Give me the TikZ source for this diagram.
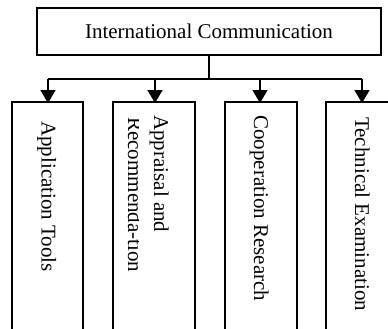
\documentclass[tikz,border=0pt]{standalone}
\usepackage{fontspec}
\setmainfont{Liberation Serif}
\usetikzlibrary{arrows.meta}
\begin{document}
\begin{tikzpicture}[x=1pt,y=-1pt,
  boxline/.style={draw=black,line width=1.7pt},
  conn/.style={line width=1.7pt},
  arr/.style={conn,-{Triangle[width=15pt,length=13pt]}},
  vtext/.style={rotate=-90,anchor=base west,inner sep=0pt,font=\fontsize{21}{24}\selectfont},
]
\useasboundingbox (0,0) rectangle (388,329);
\begin{scope}
\clip (0,0) rectangle (388,329);
\node[boxline,minimum width=344pt,minimum height=47pt,inner sep=0pt,font=\fontsize{21}{24}\selectfont] (top) at (209,31.5) {International Communication};
\coordinate (bus) at (209,79);
\coordinate (b1) at (48,79);
\coordinate (b2) at (155,79);
\coordinate (b3) at (260,79);
\coordinate (b4) at (362,79);
\draw[boxline] (12,340) -- (12,102) -- (83,102) -- (83,340);
\draw[boxline] (113,340) -- (113,102) -- (195,102) -- (195,340);
\draw[boxline] (225,340) -- (225,102) -- (297,102) -- (297,340);
\draw[boxline] (326,340) -- (326,102) -- (400,102) -- (400,340);
\coordinate (t1) at (48,103);
\coordinate (t2) at (155,103);
\coordinate (t3) at (260,103);
\coordinate (t4) at (362,103);
\draw[conn] (top.south) -- (bus);
\draw[conn] (b1) -- (b4);
\draw[arr] (b1) -- (t1);
\draw[arr] (b2) -- (t2);
\draw[arr] (b3) -- (t3);
\draw[arr] (b4) -- (t4);
\node[vtext] (l1) at (41.5,121) {Application Tools};
\node[vtext] (l2a) at (154,115) {Appraisal and};
\begin{scope}
\clip (113,102) rectangle (138,340);
\node[vtext] (l2b) at (128,117) {Recommenda-tion};
\end{scope}
\node[vtext] (l3) at (254,115) {Cooperation Research};
\node[vtext] (l4) at (355,117) {Technical Examination};
\end{scope}
\end{tikzpicture}
\end{document}
